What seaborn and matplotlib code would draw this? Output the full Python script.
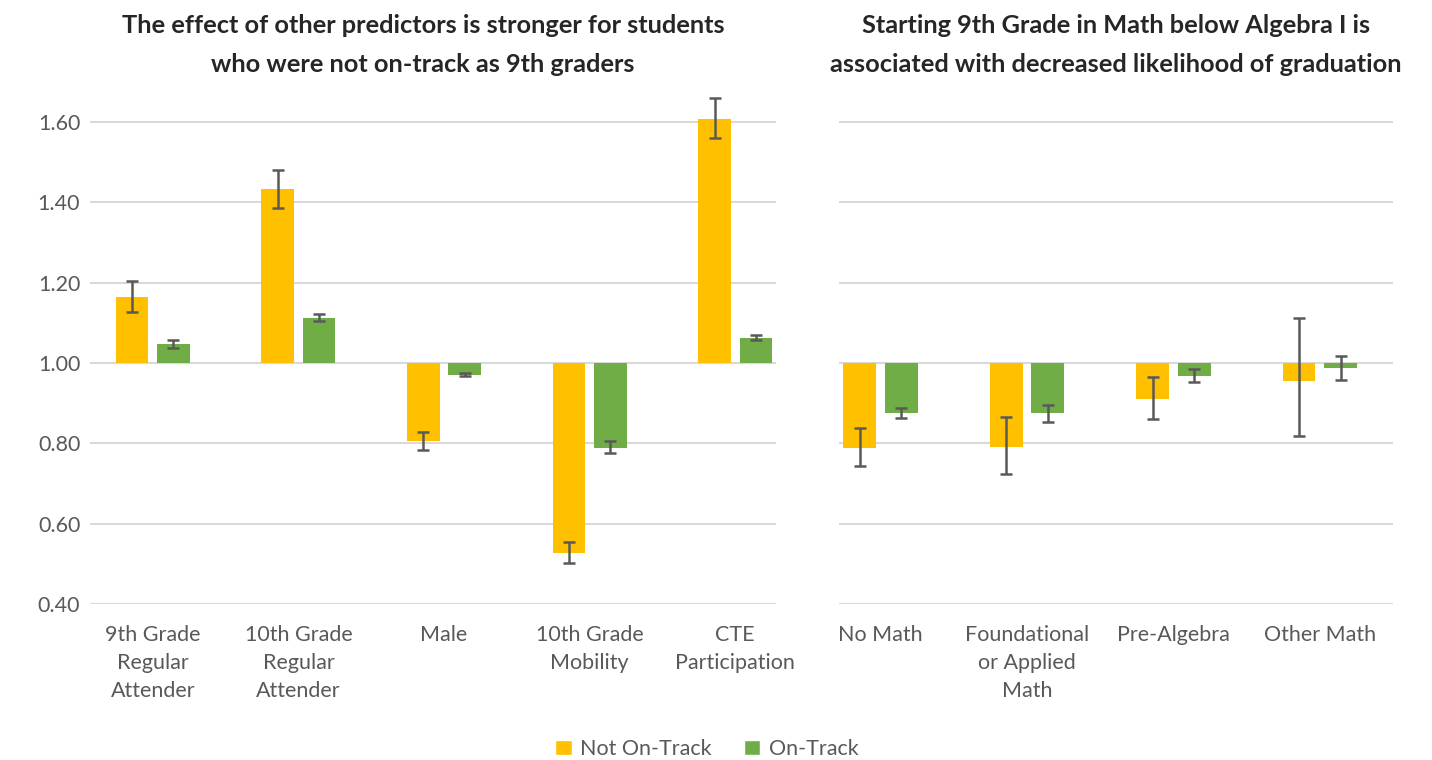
import numpy as np
import pandas as pd
import matplotlib
matplotlib.use('Agg')
import matplotlib.pyplot as plt
import seaborn as sns
from matplotlib.patches import Patch

sns.set_style('white')
plt.rcParams['font.family'] = ['Lato', 'DejaVu Sans']

groups = ['Not On-Track', 'On-Track']
colors = ['#FFC000', '#70AD47']

# left panel: other predictors
left_cats = ['9th Grade\nRegular\nAttender', '10th Grade\nRegular\nAttender', 'Male',
             '10th Grade\nMobility', 'CTE\nParticipation']
left_not = [1.165, 1.432, 0.806, 0.527, 1.608]
left_not_lo = [1.128, 1.386, 0.784, 0.501, 1.560]
left_not_hi = [1.205, 1.481, 0.827, 0.555, 1.659]
left_on = [1.046, 1.113, 0.971, 0.788, 1.063]
left_on_lo = [1.038, 1.104, 0.968, 0.776, 1.057]
left_on_hi = [1.056, 1.121, 0.975, 0.805, 1.069]

# right panel: 9th grade math course
right_cats = ['No Math', 'Foundational\nor Applied\nMath', 'Pre-Algebra', 'Other Math']
right_not = [0.789, 0.792, 0.911, 0.955]
right_not_lo = [0.743, 0.724, 0.861, 0.819]
right_not_hi = [0.837, 0.866, 0.965, 1.111]
right_on = [0.876, 0.875, 0.968, 0.987]
right_on_lo = [0.864, 0.853, 0.952, 0.958]
right_on_hi = [0.889, 0.895, 0.985, 1.017]

yticks = [0.40, 0.60, 0.80, 1.00, 1.20, 1.40, 1.60]

W, H = 1432, 760
fig = plt.figure(figsize=(W / 100, H / 100), dpi=100)
bottom = 1 - 604 / H
height = (604 - 89.8) / H
ax1 = fig.add_axes([90 / W, bottom, (776 - 90) / W, height])
ax2 = fig.add_axes([839 / W, bottom, (1393 - 839) / W, height])

grey = '#595959'


def panel(ax, cats, not_v, not_lo, not_hi, on_v, on_lo, on_hi, xlim, show_y):
    df = pd.DataFrame({
        'cat': cats * 2,
        'group': [groups[0]] * len(cats) + [groups[1]] * len(cats),
        'value': not_v + on_v,
    })
    df['delta'] = df['value'] - 1.0
    sns.barplot(data=df, x='cat', y='delta', hue='group', order=cats, hue_order=groups,
                palette=colors, saturation=1, width=0.568, gap=0.21, bottom=1.0,
                errorbar=None, legend=False, ax=ax, zorder=2, linewidth=0)
    centers = sorted(p.get_x() + p.get_width() / 2 for p in ax.patches)
    xs_not = centers[0::2]
    xs_on = centers[1::2]
    for xs, v, lo, hi in [(xs_not, not_v, not_lo, not_hi), (xs_on, on_v, on_lo, on_hi)]:
        v = np.array(v)
        ax.errorbar(xs, v, yerr=[v - np.array(lo), np.array(hi) - v], fmt='none',
                    ecolor=grey, elinewidth=1.8, capsize=4.5, capthick=1.8,
                    clip_on=False, zorder=3)
    ax.set_ylim(0.40, 1.68)
    ax.set_yticks(yticks)
    ax.set_yticklabels([f'{t:.2f}' for t in yticks] if show_y else [])
    ax.set_xlim(*xlim)
    ax.yaxis.grid(True, color='#d9d9d9', linewidth=1.5)
    ax.set_axisbelow(True)
    ax.set_xlabel('')
    ax.set_ylabel('')
    sns.despine(ax=ax, left=True, bottom=True)
    ax.tick_params(axis='both', length=0, labelsize=15.5, colors=grey)
    ax.tick_params(axis='y', pad=7)
    ax.tick_params(axis='x', pad=15)
    for t in ax.get_xticklabels():
        t.set_linespacing(1.5)


panel(ax1, left_cats, left_not, left_not_lo, left_not_hi,
      left_on, left_on_lo, left_on_hi, (-0.431, 4.28), True)
panel(ax2, right_cats, right_not, right_not_lo, right_not_hi,
      right_on, right_on_lo, right_on_hi, (-0.284, 3.50), False)

fig.text(423 / W, 1 - 45 / H,
         'The effect of other predictors is stronger for students\nwho were not on-track as 9th graders',
         ha='center', va='center', fontsize=18.3, fontweight='bold', linespacing=1.8)
fig.text(1116 / W, 1 - 45 / H,
         'Starting 9th Grade in Math below Algebra I is\nassociated with decreased likelihood of graduation',
         ha='center', va='center', fontsize=18.3, fontweight='bold', linespacing=1.8)

handles = [Patch(facecolor=c, label=g) for c, g in zip(colors, groups)]
leg = fig.legend(handles=handles, loc='center', bbox_to_anchor=(707 / W, 1 - 749 / H),
                 ncol=2, frameon=False, fontsize=15.5, handlelength=0.75, handleheight=0.75,
                 handletextpad=0.4, columnspacing=1.5)
for t in leg.get_texts():
    t.set_color(grey)

fig.savefig('out.png', dpi=100)
